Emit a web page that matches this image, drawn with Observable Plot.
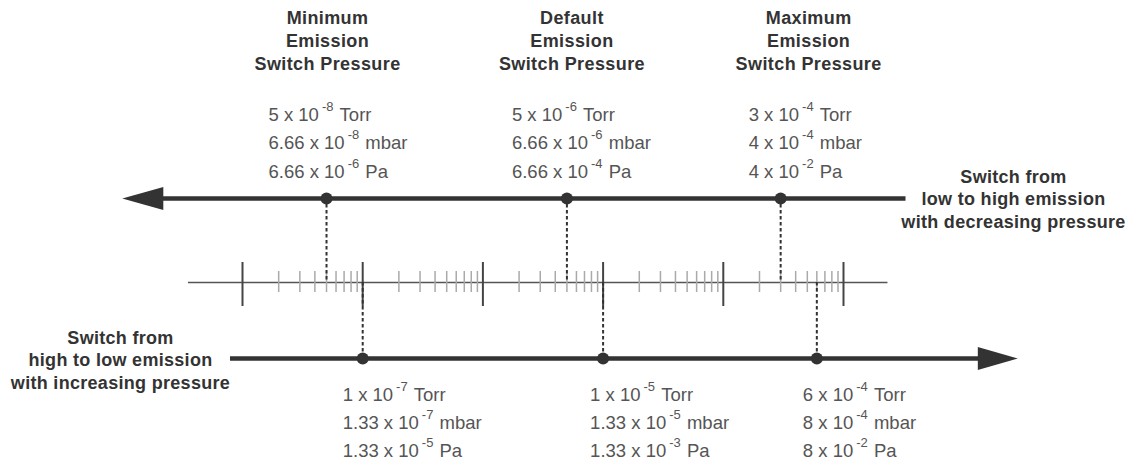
<!DOCTYPE html>
<html>
<head>
<meta charset="utf-8">
<script src="https://cdn.jsdelivr.net/npm/d3@7"></script>
<script src="https://cdn.jsdelivr.net/npm/@observablehq/plot@0.6"></script>
<style>
  html, body { margin: 0; padding: 0; background: #fff; overflow: hidden; }
  #chart svg { display: block; }
  #chart svg .title-text text { letter-spacing: 0.4px; }
  #chart svg .side-text text { letter-spacing: 0.3px; }
</style>
</head>
<body>
<div id="chart"></div>
<script>
// ---- data (pressures in Torr) ----
const topTitles = ["Minimum\nEmission\nSwitch Pressure", "Default\nEmission\nSwitch Pressure", "Maximum\nEmission\nSwitch Pressure"];
const topTorr = [5e-8, 5e-6, 3e-4];
const topTorrLabels = ["5 x 10{-8} Torr", "5 x 10{-6} Torr", "3 x 10{-4} Torr"];
const topMbarLabels = ["6.66 x 10{-8} mbar", "6.66 x 10{-6} mbar", "4 x 10{-4} mbar"];
const topPaLabels = ["6.66 x 10{-6} Pa", "6.66 x 10{-4} Pa", "4 x 10{-2} Pa"];

const bottomTorr = [1e-7, 1e-5, 6e-4];
const bottomTorrLabels = ["1 x 10{-7} Torr", "1 x 10{-5} Torr", "6 x 10{-4} Torr"];
const bottomMbarLabels = ["1.33 x 10{-7} mbar", "1.33 x 10{-5} mbar", "8 x 10{-4} mbar"];
const bottomPaLabels = ["1.33 x 10{-5} Pa", "1.33 x 10{-3} Pa", "8 x 10{-2} Pa"];

const majorTicks = [1e-8, 1e-7, 1e-6, 1e-5, 1e-4, 1e-3];
const minorMantissas = [2, 3, 4, 5, 6, 7, 8, 9];

const topSideLabel = "Switch from\nlow to high emission\nwith decreasing pressure";
const bottomSideLabel = "Switch from\nhigh to low emission\nwith increasing pressure";

// ---- layout (not data) ----
const axisExtent = [10 ** -8.45, 10 ** -2.63];
const topArrowExtent = [1e-9, 10 ** -2.48];          // [tip, tail]
const bottomArrowExtent = [10 ** -8.1, 10 ** -1.55]; // [tail, tip]
const yTop = 198, yAxis = 282, yBottom = 358;
const topTitleDx = [1, 5, 28];
const topValueDx = [-58, -55, -32];
const bottomValueDx = [-20, -13, -14];

const minorTicks = majorTicks.slice(0, -1).flatMap(d => minorMantissas.map(m => m * d));
const topRows = topTorr.map((v, i) => ({v, title: topTitles[i], torr: topTorrLabels[i], mbar: topMbarLabels[i], pa: topPaLabels[i]}));
const bottomRows = bottomTorr.map((v, i) => ({v, torr: bottomTorrLabels[i], mbar: bottomMbarLabels[i], pa: bottomPaLabels[i]}));

const dark = "#333";
const valueColor = "#555";
const font = "'Liberation Sans', Arial, Helvetica, sans-serif";

const leftHead = {draw(ctx) { ctx.moveTo(0, 0); ctx.lineTo(41, -11.5); ctx.lineTo(41, 11.5); ctx.closePath(); }};
const rightHead = {draw(ctx) { ctx.moveTo(0, 0); ctx.lineTo(-40, -11.5); ctx.lineTo(-40, 11.5); ctx.closePath(); }};

function valueMarks(rows, y0, step, dxs) {
  return rows.flatMap((r, i) => ["torr", "mbar", "pa"].map((k, j) => Plot.text([r], {
    x: "v", y: () => y0 + j * step, text: k, dx: dxs[i],
    textAnchor: "start", lineAnchor: "bottom", fontSize: 18.5, fill: valueColor
  })));
}

const chart = Plot.plot({
  width: 1131,
  height: 460,
  margin: 0,
  x: {type: "log", domain: [1e-8, 1e-3], range: [242, 843], axis: null},
  y: {type: "identity"},
  style: {fontFamily: font, background: "#fff"},
  marks: [
    // scale axis line and ticks
    Plot.ruleY([yAxis], {x1: () => axisExtent[0], x2: () => axisExtent[1], stroke: "#555", strokeWidth: 1.6}),
    Plot.ruleX(minorTicks, {x: d => d, y1: () => yAxis - 11, y2: () => yAxis + 10, stroke: "#aaa", strokeWidth: 1.5}),
    Plot.ruleX(majorTicks, {x: d => d, y1: () => yAxis - 20, y2: () => yAxis + 24, stroke: "#444", strokeWidth: 2}),
    // dashed connectors
    Plot.ruleX(topTorr, {x: d => d, y1: () => yTop, y2: () => yAxis, stroke: dark, strokeWidth: 2, strokeDasharray: "3.5,2.5"}),
    Plot.ruleX(bottomTorr, {x: d => d, y1: () => yAxis, y2: () => yBottom, stroke: dark, strokeWidth: 2, strokeDasharray: "3.5,2.5"}),
    // arrows
    Plot.ruleY([yTop], {x1: () => topArrowExtent[0] * 1.3, x2: () => topArrowExtent[1], stroke: dark, strokeWidth: 4.5}),
    Plot.dot([topArrowExtent[0]], {x: d => d, y: () => yTop, symbol: leftHead, r: 5, fill: dark, stroke: null}),
    Plot.ruleY([yBottom], {x1: () => bottomArrowExtent[0], x2: () => bottomArrowExtent[1] / 1.3, stroke: dark, strokeWidth: 4.5}),
    Plot.dot([bottomArrowExtent[1]], {x: d => d, y: () => yBottom, symbol: rightHead, r: 5, fill: dark, stroke: null}),
    // points
    Plot.dot(topTorr, {x: d => d, y: () => yTop, r: 6, fill: dark, stroke: null}),
    Plot.dot(bottomTorr, {x: d => d, y: () => yBottom, r: 6, fill: dark, stroke: null}),
    // titles
    ...topRows.map((r, i) => Plot.text([r], {x: "v", y: () => 69, dx: topTitleDx[i], text: "title",
      textAnchor: "middle", lineAnchor: "bottom", lineHeight: 23 / 18, fontSize: 18, fontWeight: "bold",
      fill: dark, className: "title-text"})),
    // value labels
    ...valueMarks(topRows, 120, 28.5, topValueDx),
    ...valueMarks(bottomRows, 400, 28, bottomValueDx),
    // side labels
    Plot.text([topSideLabel], {frameAnchor: "right", dx: -118, y: () => 227, text: d => d, textAnchor: "middle",
      lineAnchor: "bottom", lineHeight: 22.5 / 18, fontSize: 18, fontWeight: "bold", fill: dark, className: "side-text"}),
    Plot.text([bottomSideLabel], {frameAnchor: "left", dx: 120, y: () => 388, text: d => d, textAnchor: "middle",
      lineAnchor: "bottom", lineHeight: 22.5 / 18, fontSize: 18, fontWeight: "bold", fill: dark, className: "side-text"})
  ]
});

// superscripts: "a{b}c"
const NS = "http://www.w3.org/2000/svg";
chart.querySelectorAll("text").forEach(t => {
  const s = t.textContent;
  const m = s.match(/^(.*)\{(.*)\}(.*)$/);
  if (!m) return;
  t.textContent = "";
  const a = document.createElementNS(NS, "tspan"); a.textContent = m[1];
  const b = document.createElementNS(NS, "tspan"); b.textContent = m[2];
  b.setAttribute("font-size", "13"); b.setAttribute("dy", "-10"); b.setAttribute("dx", "3");
  const c = document.createElementNS(NS, "tspan"); c.textContent = "\u00a0" + m[3].trimStart(); c.setAttribute("dy", "10"); c.setAttribute("dx", "1");
  t.append(a, b, c);
});

document.getElementById("chart").append(chart);
</script>
</body>
</html>
